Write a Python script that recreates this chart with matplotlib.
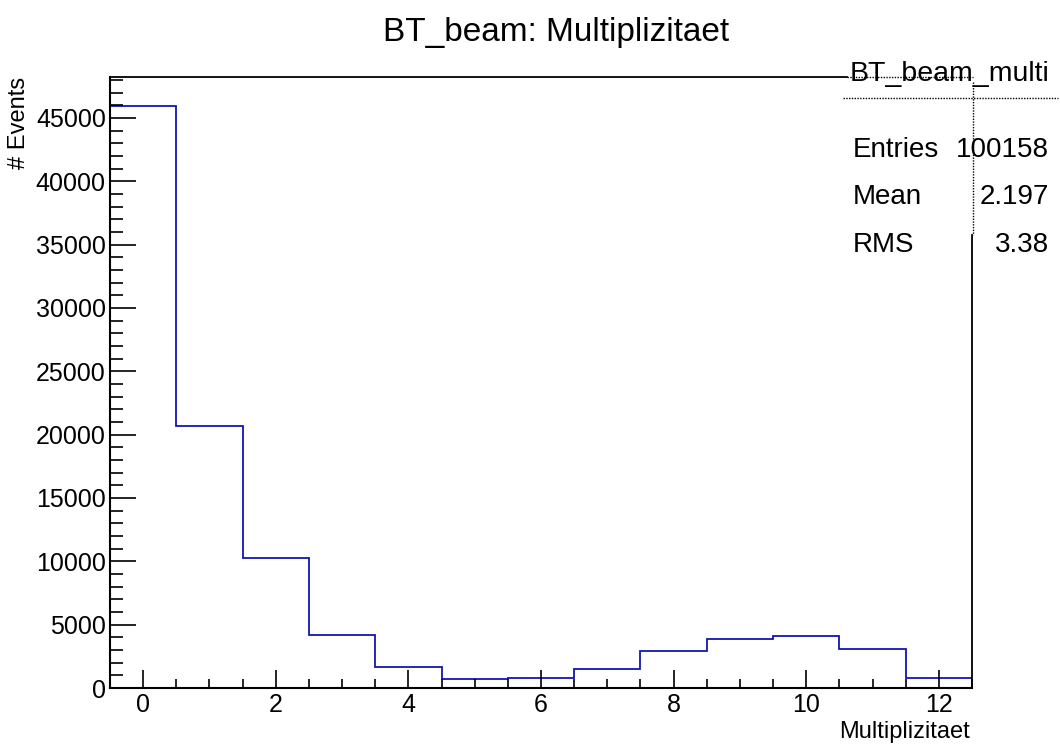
import numpy as np
import matplotlib
matplotlib.use("Agg")
import matplotlib.pyplot as plt
from matplotlib.ticker import MultipleLocator
from matplotlib.lines import Line2D

plt.rcParams['font.family'] = ['Liberation Sans', 'DejaVu Sans']

# histogram data (one bin per multiplicity 0..12)
bin_edges = np.arange(-0.5, 13.0, 1.0)
counts = [45935, 20680, 10260, 4180, 1690, 735, 815, 1525, 2900, 3890, 4080, 3050, 815]

stat_title = "BT_beam_multi"
stat_names = ["Entries", "Mean", "RMS"]
stat_values = ["100158", "2.197", "3.38"]

W, H = 1060, 746
fig = plt.figure(figsize=(W / 100, H / 100), dpi=100)
ax = fig.add_axes([110 / W, 1 - 688 / H, (972 - 110) / W, (688 - 77) / H])

ax.stairs(counts, bin_edges, color='#1414b4', linewidth=1.3)
ax.set_xlim(-0.5, 12.5)
ax.set_ylim(0, max(counts) * 1.05)

ax.xaxis.set_major_locator(MultipleLocator(2))
ax.xaxis.set_minor_locator(MultipleLocator(0.5))
ax.yaxis.set_major_locator(MultipleLocator(5000))
ax.yaxis.set_minor_locator(MultipleLocator(1000))
ax.tick_params(axis='both', which='both', direction='in', top=False, right=False,
               labelsize=18, width=1.2, color='black')
ax.tick_params(axis='x', which='major', length=13, pad=3.5)
ax.tick_params(axis='x', which='minor', length=6.5)
ax.tick_params(axis='y', which='major', length=19, pad=3)
ax.tick_params(axis='y', which='minor', length=9.5)

for s in ['left', 'bottom']:
    ax.spines[s].set_linewidth(1.5)
ax.spines['top'].set_visible(False)
ax.spines['right'].set_visible(False)

# frame pieces that are partly hidden behind the stats box
def fline(x0, y0, x1, y1, **kw):
    fig.add_artist(Line2D([x0 / W, x1 / W], [1 - y0 / H, 1 - y1 / H], transform=fig.transFigure, **kw))

fline(110, 77, 847, 77, color='black', linewidth=1.3)
fline(847, 77, 973, 77, color='black', linewidth=1.0, linestyle=(0, (1, 1)))
fline(972, 235, 972, 688, color='black', linewidth=1.3)
fline(973, 82, 973, 235, color='black', linewidth=1.0, linestyle=(0, (1, 1)))
fline(843, 97.5, 1058, 97.5, color='black', linewidth=1.0, linestyle=(0, (1, 1)))

# stats box text
fig.text(950 / W, 1 - 74 / H, stat_title, ha='center', va='center', fontsize=20.5)
for i, (n, v) in enumerate(zip(stat_names, stat_values)):
    y = 1 - (150 + 47.5 * i) / H
    fig.text(853 / W, y, n, ha='left', va='center', fontsize=20)
    fig.text(1049 / W, y, v, ha='right', va='center', fontsize=20)

fig.text(556 / W, 1 - 32 / H, "BT_beam: Multiplizitaet", ha='center', va='center', fontsize=24)
fig.text(970 / W, 1 - 732 / H, "Multiplizitaet", ha='right', va='center', fontsize=17)
fig.text(19 / W, 1 - 77 / H, "# Events", ha='center', va='top', rotation=90, fontsize=17)

fig.savefig("out.png", dpi=100)
